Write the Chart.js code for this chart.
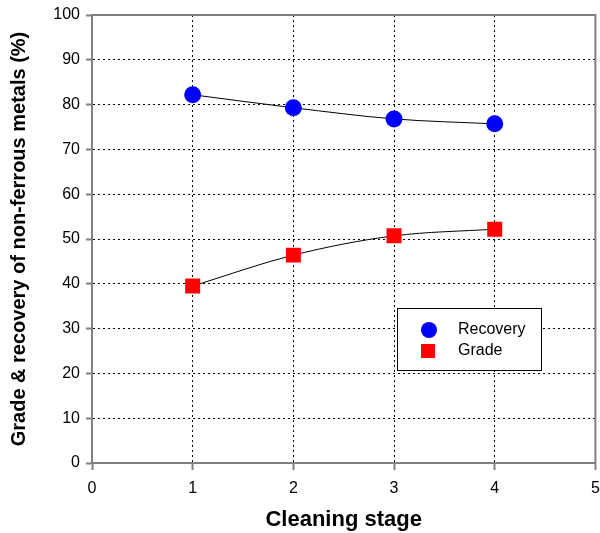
<!DOCTYPE html>
<html>
<head>
<meta charset="utf-8">
<script src="https://cdn.jsdelivr.net/npm/chart.js@4"></script>
<style>
    html, body { margin: 0; padding: 0; background: #fff; overflow: hidden; }
    #wrap { width: 600px; height: 533px; overflow: hidden; }
</style>
</head>
<body>
<div id="wrap"><canvas id="cleaningChart" width="606" height="533"></canvas></div>
<script>
// values
const stages = [1, 2, 3, 4];
const recovery = [82.2, 79.3, 76.8, 75.7];
const grade = [39.5, 46.4, 50.7, 52.2];
const xTicks = [0, 1, 2, 3, 4, 5];
const yTicks = [0, 10, 20, 30, 40, 50, 60, 70, 80, 90, 100];

const FONT = "'Liberation Sans', Arial, sans-serif";
const AXIS_GRAY = '#808080';

function toPoints(values) {
    return stages.map((s, i) => ({ x: s, y: values[i] }));
}

// frame around the plot area (top and right sides too)
const framePlugin = {
    id: 'frame',
    afterDatasetsDraw(chart) {
        const a = chart.chartArea;
        const ctx = chart.ctx;
        ctx.save();
        ctx.strokeStyle = AXIS_GRAY;
        ctx.lineWidth = 2;
        ctx.strokeRect(a.left, a.top, a.right - a.left, a.bottom - a.top);
        ctx.restore();
    }
};

// boxed legend sitting inside the plot
const boxLegend = {
    id: 'boxLegend',
    afterDraw(chart) {
        const ctx = chart.ctx;
        const a = chart.chartArea;
        const x0 = a.left + 305, y0 = a.top + 293, w = 144, h = 62;
        ctx.save();
        ctx.fillStyle = '#fff';
        ctx.fillRect(x0, y0, w, h);
        ctx.strokeStyle = '#000';
        ctx.lineWidth = 1;
        ctx.strokeRect(x0 + 0.5, y0 + 0.5, w, h);
        ctx.font = '16px ' + FONT;
        ctx.textBaseline = 'middle';
        chart.data.datasets.forEach((ds, i) => {
            const cy = y0 + 22 + i * 21;
            ctx.fillStyle = ds.pointBackgroundColor;
            if (ds.pointStyle === 'circle') {
                ctx.beginPath();
                ctx.arc(x0 + 32, cy, 8, 0, Math.PI * 2);
                ctx.fill();
            } else {
                ctx.fillRect(x0 + 24, cy - 7, 14, 14);
            }
            ctx.fillStyle = '#000';
            ctx.fillText(ds.label, x0 + 61, cy);
        });
        ctx.restore();
    }
};

const ctx = document.getElementById('cleaningChart').getContext('2d');
new Chart(ctx, {
    type: 'line',
    data: {
        datasets: [{
            label: 'Recovery',
            data: toPoints(recovery),
            borderColor: '#000',
            borderWidth: 1,
            pointStyle: 'circle',
            pointRadius: 8.5,
            pointBackgroundColor: '#0000ff',
            pointBorderColor: '#0000ff',
            pointBorderWidth: 0,
            cubicInterpolationMode: 'monotone',
            fill: false
        }, {
            label: 'Grade',
            data: toPoints(grade),
            borderColor: '#000',
            borderWidth: 1,
            pointStyle: 'rect',
            pointRadius: 10.6,
            pointBackgroundColor: '#ff0000',
            pointBorderColor: '#ff0000',
            pointBorderWidth: 0,
            cubicInterpolationMode: 'monotone',
            fill: false
        }]
    },
    options: {
        responsive: false,
        animation: false,
        layout: { padding: { top: 15, right: 0, left: 0, bottom: 0 } },
        plugins: {
            legend: { display: false },
            tooltip: { enabled: false }
        },
        scales: {
            x: {
                type: 'linear',
                min: 0,
                max: 5,
                afterBuildTicks: (scale) => { scale.ticks = xTicks.map(v => ({ value: v })); },
                afterFit: (scale) => {
                    scale.height = 70;
                    scale.paddingLeft = 0;
                    scale.paddingRight = 0;
                },
                ticks: {
                    color: '#000',
                    padding: 9,
                    maxRotation: 0,
                    font: { family: FONT, size: 16 }
                },
                grid: {
                    color: '#000',
                    lineWidth: 1,
                    tickLength: 7,
                    tickColor: AXIS_GRAY,
                    tickWidth: 2,
                    tickBorderDash: []
                },
                border: { display: true, color: AXIS_GRAY, width: 2, dash: [2, 3] },
                title: {
                    display: true,
                    text: 'Cleaning stage',
                    color: '#000',
                    padding: { top: 0, bottom: 0 },
                    font: { family: FONT, size: 22, weight: 'bold' }
                }
            },
            y: {
                min: 0,
                max: 100,
                afterBuildTicks: (scale) => { scale.ticks = yTicks.map(v => ({ value: v })); },
                afterFit: (scale) => {
                    scale.width = 92;
                    scale.paddingTop = 0;
                    scale.paddingBottom = 0;
                },
                ticks: {
                    color: '#000',
                    padding: 6,
                    font: { family: FONT, size: 16 }
                },
                grid: {
                    color: '#000',
                    lineWidth: 1,
                    tickLength: 6,
                    tickColor: AXIS_GRAY,
                    tickWidth: 2,
                    tickBorderDash: []
                },
                border: { display: true, color: AXIS_GRAY, width: 2, dash: [2, 3] },
                title: {
                    display: true,
                    text: 'Grade & recovery of non-ferrous metals (%)',
                    color: '#000',
                    padding: { top: 7, bottom: 0 },
                    font: { family: FONT, size: 20, weight: 'bold' }
                }
            }
        }
    },
    plugins: [framePlugin, boxLegend]
});
</script>
</body>
</html>
